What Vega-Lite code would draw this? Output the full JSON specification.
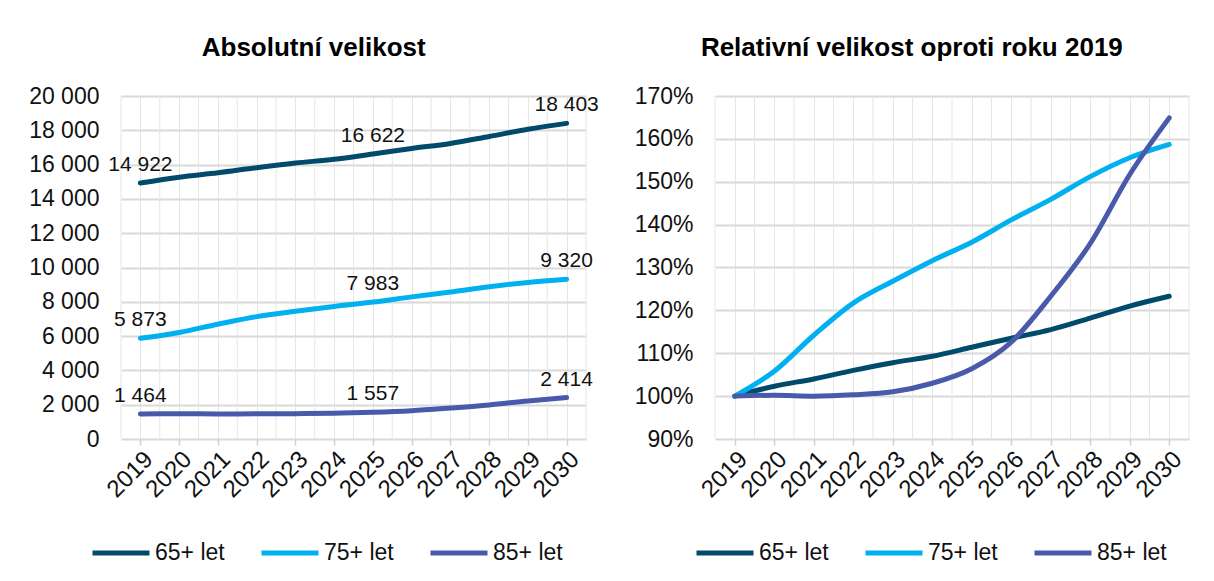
{
  "$schema": "https://vega.github.io/schema/vega-lite/v6.json",
  "background": "white",
  "padding": {"left": 28, "top": 35, "right": 5, "bottom": 5},
  "config": {
    "font": "Liberation Sans",
    "locale": {"number": {"decimal": ",", "thousands": " ", "grouping": [3], "currency": ["", ""]}},
    "view": {"stroke": null},
    "title": {"fontSize": 26, "fontWeight": "bold", "color": "#000000", "offset": 24, "anchor": "middle", "frame": "bounds"},
    "axis": {"labelFontSize": 23, "labelColor": "#111111", "title": null, "domain": false, "labelOverlap": false, "labelBound": false},
    "legend": {"orient": "none", "direction": "horizontal", "title": null, "symbolType": "stroke", "symbolStrokeWidth": 5, "symbolSize": 3249, "labelFontSize": 23, "labelColor": "#111111", "columnPadding": 26, "labelOffset": 3, "labelLimit": 300}
  },
  "datasets": {
    "d": [
      {"year": 2019, "group": "65+ let", "abs": 14922, "rel": 1.000},
      {"year": 2020, "group": "65+ let", "abs": 15265, "rel": 1.023},
      {"year": 2021, "group": "65+ let", "abs": 15520, "rel": 1.040},
      {"year": 2022, "group": "65+ let", "abs": 15820, "rel": 1.060},
      {"year": 2023, "group": "65+ let", "abs": 16090, "rel": 1.078},
      {"year": 2024, "group": "65+ let", "abs": 16310, "rel": 1.093},
      {"year": 2025, "group": "65+ let", "abs": 16622, "rel": 1.114},
      {"year": 2026, "group": "65+ let", "abs": 16940, "rel": 1.135},
      {"year": 2027, "group": "65+ let", "abs": 17235, "rel": 1.155},
      {"year": 2028, "group": "65+ let", "abs": 17640, "rel": 1.182},
      {"year": 2029, "group": "65+ let", "abs": 18060, "rel": 1.210},
      {"year": 2030, "group": "65+ let", "abs": 18403, "rel": 1.233},
      {"year": 2019, "group": "75+ let", "abs": 5873, "rel": 1.000},
      {"year": 2020, "group": "75+ let", "abs": 6214, "rel": 1.058},
      {"year": 2021, "group": "75+ let", "abs": 6695, "rel": 1.142},
      {"year": 2022, "group": "75+ let", "abs": 7136, "rel": 1.217},
      {"year": 2023, "group": "75+ let", "abs": 7447, "rel": 1.268},
      {"year": 2024, "group": "75+ let", "abs": 7729, "rel": 1.316},
      {"year": 2025, "group": "75+ let", "abs": 7983, "rel": 1.359},
      {"year": 2026, "group": "75+ let", "abs": 8287, "rel": 1.411},
      {"year": 2027, "group": "75+ let", "abs": 8569, "rel": 1.459},
      {"year": 2028, "group": "75+ let", "abs": 8874, "rel": 1.512},
      {"year": 2029, "group": "75+ let", "abs": 9127, "rel": 1.556},
      {"year": 2030, "group": "75+ let", "abs": 9320, "rel": 1.587},
      {"year": 2019, "group": "85+ let", "abs": 1464, "rel": 1.000},
      {"year": 2020, "group": "85+ let", "abs": 1467, "rel": 1.002},
      {"year": 2021, "group": "85+ let", "abs": 1464, "rel": 1.000},
      {"year": 2022, "group": "85+ let", "abs": 1468, "rel": 1.003},
      {"year": 2023, "group": "85+ let", "abs": 1479, "rel": 1.010},
      {"year": 2024, "group": "85+ let", "abs": 1508, "rel": 1.030},
      {"year": 2025, "group": "85+ let", "abs": 1557, "rel": 1.064},
      {"year": 2026, "group": "85+ let", "abs": 1647, "rel": 1.126},
      {"year": 2027, "group": "85+ let", "abs": 1805, "rel": 1.233},
      {"year": 2028, "group": "85+ let", "abs": 1984, "rel": 1.356},
      {"year": 2029, "group": "85+ let", "abs": 2218, "rel": 1.517},
      {"year": 2030, "group": "85+ let", "abs": 2414, "rel": 1.649}
    ],
    "bounds": [
      {"b": 2018.5}, {"b": 2019.5}, {"b": 2020.5}, {"b": 2021.5}, {"b": 2022.5}, {"b": 2023.5}, {"b": 2024.5},
      {"b": 2025.5}, {"b": 2026.5}, {"b": 2027.5}, {"b": 2028.5}, {"b": 2029.5}, {"b": 2030.5}
    ]
  },
  "spacing": 35,
  "resolve": {
    "scale": {"color": "independent", "y": "independent", "x": "independent"},
    "legend": {"color": "independent"},
    "axis": {"x": "independent", "y": "independent"}
  },
  "hconcat": [
    {
      "title": "Absolutní velikost",
      "width": 465,
      "height": 343,
      "layer": [
        {
          "data": {"name": "bounds"},
          "mark": {"type": "rule", "color": "#e6e6e6", "strokeWidth": 1},
          "encoding": {
            "x": {"field": "b", "type": "quantitative", "scale": {"domain": [2018.5, 2030.5], "nice": false, "zero": false}}
          }
        },
        {
          "data": {"name": "d"},
          "mark": {"type": "line", "strokeWidth": 5, "strokeCap": "round", "interpolate": "monotone"},
          "encoding": {
            "x": {
              "field": "year", "type": "quantitative",
              "axis": {
                "values": [2019, 2020, 2021, 2022, 2023, 2024, 2025, 2026, 2027, 2028, 2029, 2030],
                "tickCount": 40,
                "format": "d",
                "labelAngle": -45,
                "labelFontSize": 24,
                "labelPadding": 2,
                "grid": true, "gridColor": "#e6e6e6", "gridWidth": 1,
                "ticks": true, "tickSize": 6, "tickColor": "#d0d0d0", "tickWidth": 1.5
              }
            },
            "y": {
              "field": "abs", "type": "quantitative",
              "scale": {"domain": [0, 20000], "nice": false},
              "axis": {"values": [0, 2000, 4000, 6000, 8000, 10000, 12000, 14000, 16000, 18000, 20000], "tickCount": 40, "format": ",d", "grid": true, "gridColor": "#d9d9d9", "gridWidth": 2, "ticks": false, "labelPadding": 22}
            },
            "color": {
              "field": "group", "type": "nominal",
              "scale": {"domain": ["65+ let", "75+ let", "85+ let"], "range": ["#004B6B", "#00B0F0", "#4A5AAA"]},
              "legend": {"legendX": -31, "legendY": 426}
            }
          }
        },
        {
          "data": {"name": "d"},
          "transform": [{"filter": {"field": "year", "oneOf": [2019, 2025, 2030]}}],
          "mark": {"type": "text", "dy": -18, "fontSize": 21},
          "encoding": {
            "x": {"field": "year", "type": "quantitative"},
            "y": {"field": "abs", "type": "quantitative"},
            "text": {"field": "abs", "type": "quantitative", "format": ",d"},
            "color": {"value": "#111111"}
          }
        }
      ]
    },
    {
      "title": "Relativní velikost oproti roku 2019",
      "width": 474,
      "height": 343,
      "layer": [
        {
          "data": {"name": "bounds"},
          "mark": {"type": "rule", "color": "#e6e6e6", "strokeWidth": 1},
          "encoding": {
            "x": {"field": "b", "type": "quantitative", "scale": {"domain": [2018.5, 2030.5], "nice": false, "zero": false}}
          }
        },
        {
          "data": {"name": "d"},
          "mark": {"type": "line", "strokeWidth": 5, "strokeCap": "round", "interpolate": "monotone"},
          "encoding": {
            "x": {
              "field": "year", "type": "quantitative",
              "axis": {
                "values": [2019, 2020, 2021, 2022, 2023, 2024, 2025, 2026, 2027, 2028, 2029, 2030],
                "tickCount": 40,
                "format": "d",
                "labelAngle": -45,
                "labelFontSize": 24,
                "labelPadding": 2,
                "grid": true, "gridColor": "#e6e6e6", "gridWidth": 1,
                "ticks": true, "tickSize": 6, "tickColor": "#d0d0d0", "tickWidth": 1.5
              }
            },
            "y": {
              "field": "rel", "type": "quantitative",
              "scale": {"domain": [0.9, 1.7], "nice": false, "zero": false},
              "axis": {"values": [0.9, 1.0, 1.1, 1.2, 1.3, 1.4, 1.5, 1.6, 1.7], "tickCount": 40, "format": ".0%", "grid": true, "gridColor": "#d9d9d9", "gridWidth": 2, "ticks": false, "labelPadding": 22}
            },
            "color": {
              "field": "group", "type": "nominal",
              "scale": {"domain": ["65+ let", "75+ let", "85+ let"], "range": ["#004B6B", "#00B0F0", "#4A5AAA"]},
              "legend": {"legendX": -21, "legendY": 426}
            }
          }
        }
      ]
    }
  ]
}
